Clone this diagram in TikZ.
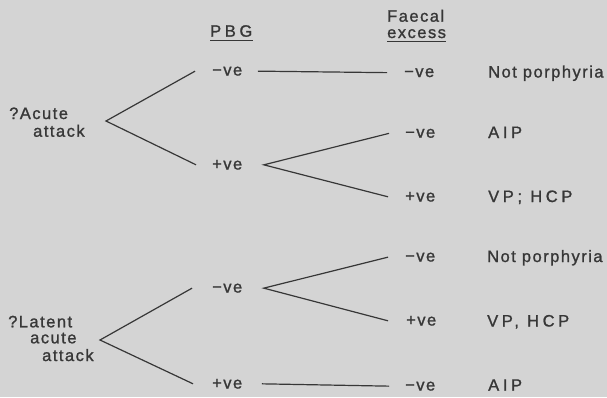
\documentclass[tikz,border=0pt]{standalone}
\usepackage{fontspec}
\setmainfont{Liberation Sans}[LetterSpace=9, FakeBold=1.2]
\newfontfamily\capsfont{Liberation Sans}[LetterSpace=22, FakeBold=1.2]
\definecolor{bg}{RGB}{212,212,212}
\definecolor{ink}{RGB}{55,55,55}
\begin{document}
\begin{tikzpicture}[x=1bp,y=-1bp,
  txt/.style={inner sep=0pt, anchor=base west, text=ink, font=\fontsize{16.5bp}{18bp}\selectfont},
  captxt/.style={txt, font=\capsfont\fontsize{16.5bp}{18bp}\selectfont},
  link/.style={draw=ink, line width=1.2bp}]
\fill[bg] (0,0) rectangle (607,397);
\useasboundingbox (0,0) rectangle (607,397);
% headers
\node[captxt] (pbg) at (210,36.7) {PBG};
\node[txt] (fae) at (387,21.7) {Faecal};
\node[txt] (exc) at (387,38) {excess};
\draw[link] ([yshift=-4]pbg.base west) -- ([yshift=-4]pbg.base east);
\draw[link] ([yshift=-3.7]exc.base west) -- ([yshift=-3.7]exc.base east);
% top tree
\node[txt] (qa1) at (9,119) {?Acute};
\node[txt] (qa2) at (33,136.7) {attack};
\coordinate (va) at (106,121);
\node[txt] (p1) at (212,75.5) {−ve};
\node[txt] (p2) at (212,169.5) {+ve};
\node[txt] (f1) at (404,77) {−ve};
\node[txt] (r1) at (488,77.5) {Not porphyria};
\node[txt] (f2) at (405,137.7) {−ve};
\node[captxt] (r2) at (488,138) {AIP};
\node[txt] (f3) at (405,201.5) {+ve};
\node[captxt] (r3) at (488,202) {VP; HCP};
\draw[link] ([xshift=-17]p1.west) -- (va) -- ([xshift=-16]p2.west);
\draw[link] ([xshift=46]p1.west) -- ([xshift=-17]f1.west);
\draw[link] ([xshift=-16]f2.west) -- ([xshift=52]p2.west) -- ([xshift=-17]f3.west);
% bottom tree
\node[txt] (qb1) at (8,327.3) {?Latent};
\node[txt] (qb2) at (30,343.3) {acute};
\node[txt] (qb3) at (42,361) {attack};
\coordinate (vb) at (100,340);
\node[txt] (p3) at (212,292.5) {−ve};
\node[txt] (p4) at (212,388.5) {+ve};
\node[txt] (f4) at (405,261.5) {−ve};
\node[txt] (r4) at (487,262) {Not porphyria};
\node[txt] (f5) at (406,325.5) {+ve};
\node[captxt] (r5) at (487,326.5) {VP, HCP};
\node[txt] (f6) at (405,390.5) {−ve};
\node[captxt] (r6) at (488,390.7) {AIP};
\draw[link] ([xshift=-20]p3.west) -- (vb) -- ([xshift=-19]p4.west);
\draw[link] ([xshift=-17]f4.west) -- ([xshift=52]p3.west) -- ([xshift=-18]f5.west);
\draw[link] ([xshift=50]p4.west) -- ([xshift=-16]f6.west);
\end{tikzpicture}
\end{document}
